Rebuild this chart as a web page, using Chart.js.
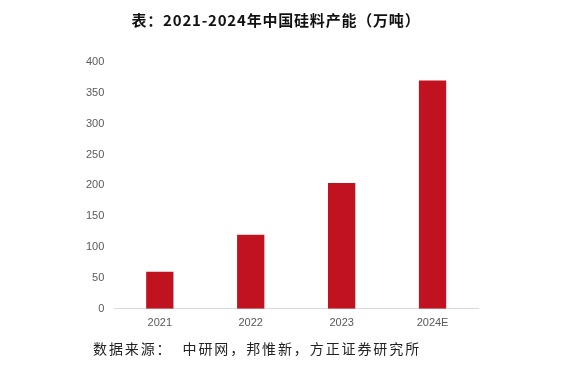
<!DOCTYPE html>
<html>
<head>
<meta charset="utf-8">
<script src="https://cdn.jsdelivr.net/npm/chart.js@4/dist/chart.umd.min.js"></script>
<style>
  html, body { margin: 0; padding: 0; background: #fff; }
  #wrap { position: relative; width: 566px; height: 371px; overflow: hidden; }
  #title { position: absolute; left: 0; width: 552px; top: 9px; text-align: center;
    font-family: "Noto Sans CJK SC", sans-serif; font-weight: bold; font-size: 15px; color: #111; letter-spacing: 0.8px; }
  #source { position: absolute; left: 93px; top: 338px; white-space: pre;
    font-family: "Noto Sans CJK SC", sans-serif; font-size: 14px; color: #222; letter-spacing: 1.9px; }
  canvas { position: absolute; left: 0; top: 0; }
</style>
</head>
<body>
<div id="wrap">
  <canvas id="c" width="566" height="371"></canvas>
  <div id="title">表：2021-2024年中国硅料产能（万吨）</div>
  <div id="source">数据来源：  中研网，邦惟新，方正证券研究所</div>
</div>
<script>
const categories = ["2021", "2022", "2023", "2024E"];
const capacity = [60, 120, 204, 370];
const yTicks = [0, 50, 100, 150, 200, 250, 300, 350, 400];

new Chart(document.getElementById('c'), {
  type: 'bar',
  data: {
    labels: categories,
    datasets: [{
      data: capacity,
      backgroundColor: '#C1121F',
      barPercentage: 0.3,
      categoryPercentage: 1.0
    }]
  },
  options: {
    responsive: false,
    animation: false,
    layout: { padding: { left: 76, right: 88, top: 62, bottom: 33 } },
    plugins: { legend: { display: false }, tooltip: { enabled: false } },
    scales: {
      x: {
        grid: { display: false, drawTicks: false },
        border: { display: true, color: '#d9d9d9', width: 1 },
        ticks: { color: '#595959', font: { family: 'Liberation Sans, Arial, sans-serif', size: 11 }, padding: 8 }
      },
      y: {
        min: 0, max: 400,
        afterBuildTicks: (s) => { s.ticks = yTicks.map(v => ({ value: v })); },
        grid: { display: false, drawTicks: false },
        border: { display: false },
        ticks: { color: '#595959', font: { family: 'Liberation Sans, Arial, sans-serif', size: 11 }, padding: 10 }
      }
    }
  }
});
</script>
</body>
</html>
